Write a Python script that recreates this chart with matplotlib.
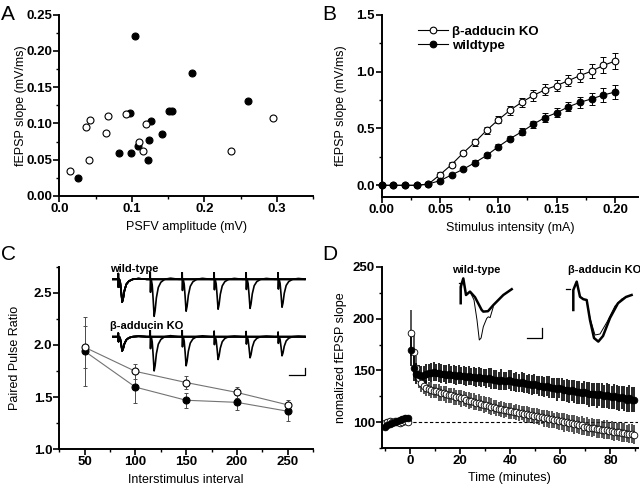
import numpy as np
import matplotlib.pyplot as plt
from matplotlib.ticker import MultipleLocator

plt.rcParams['font.family'] = ['Liberation Sans', 'DejaVu Sans']
plt.rcParams['font.weight'] = 'bold'

# ---- A: fEPSP slope vs fiber volley amplitude
a_wt_x = [0.104, 0.183, 0.260, 0.097, 0.151, 0.155, 0.126, 0.141, 0.124, 0.109, 0.082, 0.099, 0.122, 0.026]
a_wt_y = [0.221, 0.170, 0.131, 0.114, 0.117, 0.117, 0.104, 0.085, 0.077, 0.069, 0.059, 0.059, 0.049, 0.025]
a_ko_x = [0.015, 0.041, 0.037, 0.042, 0.067, 0.064, 0.092, 0.120, 0.110, 0.115, 0.236, 0.294]
a_ko_y = [0.035, 0.050, 0.095, 0.105, 0.110, 0.087, 0.113, 0.099, 0.075, 0.062, 0.062, 0.107]

# ---- B: input-output curves
b_x = [0.00, 0.01, 0.02, 0.03, 0.04, 0.05, 0.06, 0.07, 0.08, 0.09, 0.10,
       0.11, 0.12, 0.13, 0.14, 0.15, 0.16, 0.17, 0.18, 0.19, 0.20]
b_ko = [0, 0, 0, 0, 0.01, 0.094, 0.183, 0.286, 0.38, 0.484, 0.576,
        0.66, 0.73, 0.79, 0.84, 0.877, 0.92, 0.965, 1.004, 1.054, 1.092]
b_ko_err = [0, 0, 0, 0, 0.01, 0.02, 0.02, 0.02, 0.03, 0.03, 0.03,
            0.04, 0.04, 0.05, 0.05, 0.05, 0.05, 0.06, 0.06, 0.07, 0.07]
b_wt = [0, 0, 0, 0, 0.012, 0.041, 0.092, 0.142, 0.20, 0.263, 0.34,
        0.41, 0.47, 0.537, 0.596, 0.638, 0.69, 0.73, 0.76, 0.794, 0.82]
b_wt_err = [0, 0, 0, 0, 0.01, 0.01, 0.01, 0.01, 0.02, 0.02, 0.02,
            0.02, 0.03, 0.03, 0.04, 0.04, 0.04, 0.05, 0.05, 0.06, 0.06]

# ---- C: paired pulse ratio
c_isi = [50, 100, 150, 200, 250]
c_wt = [1.94, 1.596, 1.47, 1.45, 1.365]
c_wt_err = [0.33, 0.15, 0.07, 0.07, 0.09]
c_ko = [1.978, 1.747, 1.64, 1.545, 1.426]
c_ko_err = [0.2, 0.07, 0.06, 0.05, 0.05]
# example sweeps (mV): first and second fEPSP amplitudes for each interval
c_tr_wt_amp1 = 0.8
c_tr_wt_amp2 = [1.30, 1.12, 1.05, 1.02, 0.98]
c_tr_ko_amp1 = 0.5
c_tr_ko_amp2 = [1.20, 1.02, 0.80, 0.74, 0.67]
fepsp_t = [0, 0.4, 0.8, 1.3, 2.0, 3.5, 5.0, 6.5, 8.0, 10, 13, 17, 23, 32, 45]
fepsp_v = [0, 0.25, -0.35, -0.05, 0, -0.15, -0.55, -1.0, -0.85, -0.5, -0.22, -0.08, 0.0, 0.03, 0.0]

# ---- D: LTP time course (normalized fEPSP slope, %)
d_base_t = [-10, -9, -8, -7, -6, -5, -4, -3, -2, -1]
d_base_wt = [96, 97, 98, 99, 100, 101, 102, 103, 104, 104]
d_base_ko = [99, 100, 101, 100, 101, 100, 99, 100, 101, 100]
d_base_err = [3, 3, 3, 3, 3, 3, 3, 3, 3, 3]
d_t = np.arange(0.5, 90, 1.0)
d_wt = [170, 152, 147, 146, 145, 146, 147, 148, 148, 149,
        148, 148, 147, 147, 146, 147, 146, 146, 145, 146,
        145, 145, 144, 145, 144, 144, 143, 144, 143, 143,
        142, 143, 142, 141, 141, 140, 141, 140, 140, 141,
        140, 139, 139, 138, 139, 138, 137, 137, 136, 137,
        136, 135, 135, 134, 135, 134, 133, 133, 132, 133,
        132, 131, 131, 130, 131, 130, 129, 129, 128, 129,
        128, 127, 127, 127, 126, 127, 126, 125, 126, 125,
        124, 125, 124, 123, 124, 123, 122, 123, 122, 122]
d_wt_err = [16, 12, 10, 9, 9, 8, 9, 8, 9, 9,
            8, 9, 9, 8, 9, 9, 8, 9, 9, 9,
            8, 9, 9, 9, 8, 9, 9, 9, 9, 8,
            9, 9, 10, 9, 9, 9, 10, 9, 9, 9,
            10, 9, 10, 9, 10, 10, 9, 10, 10, 10,
            9, 10, 10, 10, 10, 11, 10, 10, 11, 10,
            11, 10, 11, 11, 10, 11, 11, 11, 10, 11,
            11, 12, 11, 11, 12, 11, 12, 11, 12, 12,
            11, 12, 12, 12, 11, 12, 12, 13, 12, 12]
d_ko = [186, 168, 152, 143, 138, 135, 133, 132, 131, 130,
        130, 129, 128, 128, 127, 126, 126, 125, 124, 124,
        123, 123, 122, 121, 121, 120, 119, 119, 118, 117,
        117, 116, 115, 115, 114, 113, 113, 112, 112, 111,
        111, 110, 110, 109, 109, 108, 108, 107, 107, 106,
        106, 105, 105, 104, 104, 103, 103, 102, 102, 101,
        101, 100, 100, 99, 99, 98, 98, 97, 97, 96,
        96, 95, 95, 95, 94, 94, 93, 93, 93, 92,
        92, 91, 91, 91, 90, 90, 89, 89, 89, 88]
d_ko_err = [22, 16, 12, 10, 9, 8, 8, 7, 8, 7,
            7, 8, 7, 7, 8, 7, 7, 8, 7, 7,
            8, 7, 7, 8, 7, 8, 7, 8, 7, 8,
            7, 8, 8, 7, 8, 7, 8, 8, 7, 8,
            8, 7, 8, 8, 7, 8, 8, 8, 7, 8,
            8, 8, 7, 8, 8, 8, 8, 7, 8, 8,
            8, 9, 8, 8, 8, 9, 8, 8, 9, 8,
            9, 8, 9, 8, 9, 9, 8, 9, 9, 8,
            9, 9, 8, 9, 9, 9, 8, 9, 9, 9]
# example traces (ms, mV)
d_wt_thick_t = [1.9, 1.9, 2.77, 3.67, 5.0, 6.67, 8.9, 9.43, 11.0, 12.8, 16.1, 18.9]
d_wt_thick_v = [-0.33, 0.08, 0.29, -0.125, -0.04, -0.18, -0.5, -0.54, -0.53, -0.375, -0.125, 0.02]
d_wt_thin_t = [1.9, 1.9, 2.77, 3.67, 5.0, 6.33, 7.33, 8.1, 8.7, 9.43, 10.57, 11.1, 11.7, 12.77]
d_wt_thin_v = [-0.33, 0.08, 0.29, -0.125, -0.04, -0.25, -0.75, -1.25, -1.2, -0.92, -0.71, -0.67, -0.69, -0.42]
d_ko_thick_t = [2.77, 2.77, 3.9, 5.0, 6.1, 7.23, 8.33, 9.67, 11.1, 12.67, 15.0, 17.67, 20.3, 22.2]
d_ko_thick_v = [-0.5, 0.0, 0.21, -0.17, -0.23, -0.25, -0.75, -1.2, -1.29, -1.15, -0.7, -0.33, -0.175, -0.125]
d_ko_thin_t = [2.77, 2.77, 3.9, 5.0, 6.1, 7.23, 8.33, 10.0, 11.67, 14.0, 16.67, 19.0, 20.6]
d_ko_thin_v = [-0.5, 0.0, 0.21, -0.17, -0.23, -0.25, -0.7, -1.125, -1.1, -0.8, -0.4, -0.22, -0.17]

W, H = 640, 486
fig = plt.figure(figsize=(6.4, 4.86), dpi=100)


def px_axes(x0, y0, x1, y1):
    return fig.add_axes([x0 / W, 1 - y1 / H, (x1 - x0) / W, (y1 - y0) / H])


def style(ax):
    for s in ['top', 'right']:
        ax.spines[s].set_visible(False)
    for s in ['left', 'bottom']:
        ax.spines[s].set_linewidth(1.4)
    ax.tick_params(which='major', direction='out', length=4, width=1.2, labelsize=9.5, pad=1)
    ax.tick_params(which='minor', direction='out', length=2.5, width=1.0)


def labels(ax, xl, yl, xy, yx):
    ax.set_xlabel(xl, fontsize=9, fontweight='normal')
    ax.set_ylabel(yl, fontsize=9, fontweight='normal')
    ax.xaxis.set_label_coords(0.5, xy)
    ax.yaxis.set_label_coords(yx, 0.5)


# ---------------- A
ax = px_axes(59.3, 14.7, 313.3, 196)
style(ax)
ax.plot(a_wt_x, a_wt_y, 'o', ms=5, mfc='k', mec='k', mew=0.8, clip_on=False)
ax.plot(a_ko_x, a_ko_y, 'o', ms=5, mfc='white', mec='k', mew=0.8, clip_on=False)
ax.set_xlim(0, 0.35)
ax.set_ylim(0, 0.25)
ax.xaxis.set_minor_locator(MultipleLocator(0.05))
ax.yaxis.set_minor_locator(MultipleLocator(0.025))
ax.set_xticks([0, 0.1, 0.2, 0.3], ['0.0', '0.1', '0.2', '0.3'])
ax.set_yticks([0, 0.05, 0.1, 0.15, 0.2, 0.25], ['0.00', '0.05', '0.10', '0.15', '0.20', '0.25'])
labels(ax, 'PSFV amplitude (mV)', 'fEPSP slope (mV/ms)', -0.138, -0.129)

# ---------------- B
ax = px_axes(381.7, 14.7, 638.3, 196.7)
style(ax)
ax.errorbar(b_x, b_ko, yerr=b_ko_err, fmt='none', ecolor='k', elinewidth=0.7, capsize=2, capthick=0.7)
ax.errorbar(b_x, b_wt, yerr=b_wt_err, fmt='none', ecolor='k', elinewidth=0.7, capsize=2, capthick=0.7)
ax.plot(b_x, b_ko, '-o', color='k', lw=0.8, ms=4.8, mfc='white', mec='k', mew=0.8,
        clip_on=False, label='\u03b2-adducin KO')
ax.plot(b_x, b_wt, '-o', color='k', lw=0.8, ms=4.8, mfc='k', mec='k', mew=0.8,
        clip_on=False, label='wildtype')
ax.set_xlim(0, 0.22)
ax.set_ylim(-0.1, 1.5)
ax.set_xticks([0, 0.05, 0.1, 0.15, 0.2], ['0.00', '0.05', '0.10', '0.15', '0.20'])
ax.xaxis.set_minor_locator(MultipleLocator(0.025))
ax.set_yticks([0, 0.5, 1.0, 1.5], ['0.0', '0.5', '1.0', '1.5'])
ax.yaxis.set_minor_locator(MultipleLocator(0.25))
labels(ax, 'Stimulus intensity (mA)', 'fEPSP slope (mV/ms)', -0.137, -0.136)
ax.legend(loc='upper left', bbox_to_anchor=(418 / W, 1 - 25.5 / H), bbox_transform=fig.transFigure,
          frameon=False, fontsize=9.5, borderpad=0, borderaxespad=0, handlelength=2.3,
          handletextpad=0.25, labelspacing=0.12)

# ---------------- C
ax = px_axes(59.3, 266.7, 313, 449.3)
style(ax)
ax.errorbar(c_isi, c_wt, yerr=c_wt_err, fmt='none', ecolor='0.3', elinewidth=0.7, capsize=1.5, capthick=0.7)
ax.errorbar(c_isi, c_ko, yerr=c_ko_err, fmt='none', ecolor='0.3', elinewidth=0.7, capsize=1.5, capthick=0.7)
ax.plot(c_isi, c_wt, '-', color='0.45', lw=0.8)
ax.plot(c_isi, c_ko, '-', color='0.45', lw=0.8)
ax.plot(c_isi, c_wt, 'o', ms=5, mfc='k', mec='k', mew=0.8)
ax.plot(c_isi, c_ko, 'o', ms=5, mfc='white', mec='k', mew=0.8)
ax.set_xlim(25, 275)
ax.set_ylim(1.0, 2.75)
ax.set_xticks([50, 100, 150, 200, 250])
ax.xaxis.set_minor_locator(MultipleLocator(25))
ax.set_yticks([1.0, 1.5, 2.0, 2.5], ['1.0', '1.5', '2.0', '2.5'])
ax.yaxis.set_minor_locator(MultipleLocator(0.25))
labels(ax, 'Interstimulus interval', 'Paired Pulse Ratio', -0.138, -0.150)

# paired pulse example sweeps
for box, ylim, amp1, amp2 in [((112, 272, 306, 320), (-1.428, 0.256), c_tr_wt_amp1, c_tr_wt_amp2),
                              ((112, 330, 306, 377), (-1.414, 0.235), c_tr_ko_amp1, c_tr_ko_amp2)]:
    ins = px_axes(*box)
    ins.axis('off')
    for isi, a2 in zip(c_isi, amp2):
        tt = [-9.0] + fepsp_t + [isi + t for t in fepsp_t] + [292.0]
        vv = [0.0] + [amp1 * v for v in fepsp_v] + [a2 * v for v in fepsp_v] + [0.0]
        ins.plot(tt, vv, color='k', lw=1.2)
    ins.set_xlim(-9.4, 294)
    ins.set_ylim(*ylim)
    last = ins
last.plot([267.7, 292.7, 292.7], [-1.34, -1.34, -1.09], color='k', lw=0.9, clip_on=False)
fig.text(110 / W, 1 - 268.5 / H, 'wild-type', fontsize=8, va='center', ha='left')
fig.text(110 / W, 1 - 326 / H, '\u03b2-adducin KO', fontsize=8, va='center', ha='left')

# ---------------- D
ax = px_axes(381.7, 266.7, 638, 448.3)
style(ax)
ax.axhline(100, xmin=0.012, color='k', lw=0.8, ls=(0, (3, 2)))
ax.errorbar(d_base_t, d_base_ko, yerr=d_base_err, fmt='o', ms=4.8, mfc='white', mec='k', mew=0.6,
            ecolor='k', elinewidth=1.1, capsize=0)
ax.errorbar(d_base_t, d_base_wt, yerr=d_base_err, fmt='o', ms=4.8, mfc='k', mec='k', mew=0.6,
            ecolor='k', elinewidth=1.1, capsize=0)
ax.errorbar(d_t, d_ko, yerr=d_ko_err, fmt='o', ms=4.8, mfc='white', mec='k', mew=0.6,
            ecolor='0.15', elinewidth=1.1, capsize=0)
ax.errorbar(d_t, d_wt, yerr=d_wt_err, fmt='o', ms=4.8, mfc='k', mec='k', mew=0.6,
            ecolor='k', elinewidth=1.2, capsize=0)
ax.set_xlim(-11.3, 91)
ax.set_ylim(75, 250)
ax.set_xticks([0, 20, 40, 60, 80])
ax.xaxis.set_minor_locator(MultipleLocator(10))
ax.set_yticks([100, 150, 200, 250])
ax.yaxis.set_minor_locator(MultipleLocator(25))
labels(ax, 'Time (minutes)', 'nomalized fEPSP slope', -0.132, -0.135)

# LTP example traces
ins = px_axes(455, 274, 545, 342)
ins.axis('off')
ins.plot([1.3, 2.1, 2.1], [0.17, 0.17, 0.07], color='k', lw=0.9)
ins.plot(d_wt_thin_t, d_wt_thin_v, color='k', lw=0.7)
ins.plot(d_wt_thick_t, d_wt_thick_v, color='k', lw=1.8)
ins.plot([24.1, 29.1, 29.1], [-1.21, -1.21, -0.96], color='k', lw=0.9)
ins.set_xlim(0, 30)
ins.set_ylim(-1.3, 0.4)

ins = px_axes(565, 278, 640, 350)
ins.axis('off')
ins.plot([0.33, 1.67], [0.02, 0.02], color='k', lw=0.9)
ins.plot(d_ko_thin_t, d_ko_thin_v, color='k', lw=0.7)
ins.plot(d_ko_thick_t, d_ko_thick_v, color='k', lw=1.8)
ins.set_xlim(0, 25)
ins.set_ylim(-1.5, 0.3)
fig.text(451.7 / W, 1 - 270 / H, 'wild-type', fontsize=8, va='center', ha='left')
fig.text(568 / W, 1 - 270 / H, '\u03b2-adducin KO', fontsize=8, va='center', ha='left')

# panel letters
for lx, ly, s in [(1, 14, 'A'), (322, 14, 'B'), (1, 254, 'C'), (322, 254, 'D')]:
    fig.text(lx / W, 1 - ly / H, s, fontsize=15, fontweight='normal', va='center', ha='left')

fig.savefig('out.png', dpi=100)
